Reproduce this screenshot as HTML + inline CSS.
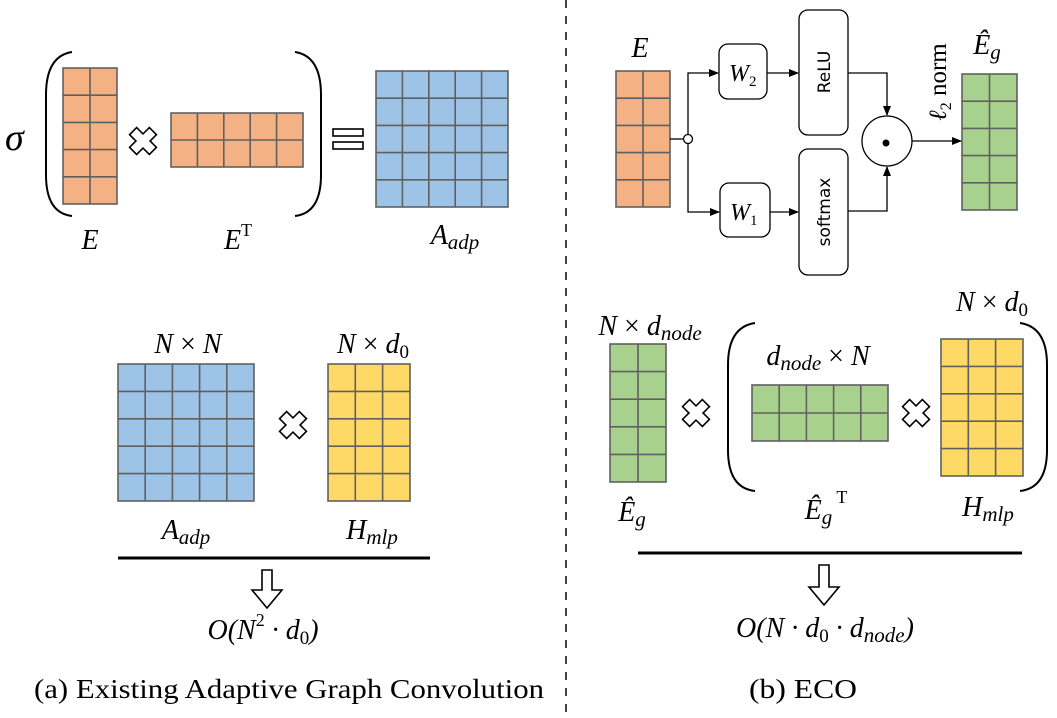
<!DOCTYPE html>
<html><head><meta charset="utf-8"><style>
html,body{margin:0;padding:0;background:#fff;}
svg{display:block;}
.m{font-family:"Liberation Serif",serif;font-style:italic;fill:#000;}
.s{font-family:"DejaVu Sans","Liberation Sans",sans-serif;fill:#000;}
</style></head><body>
<svg width="1057" height="718" viewBox="0 0 1057 718" xmlns="http://www.w3.org/2000/svg">
<defs>
<g id="cross"><polygon points="-5,-14 5,-14 5,-5 14,-5 14,5 5,5 5,14 -5,14 -5,5 -14,5 -14,-5 -5,-5" fill="#fff" stroke="#000" stroke-width="1.6" transform="rotate(45)"/></g>
<marker id="ah" markerWidth="10" markerHeight="8" refX="9" refY="4" orient="auto" markerUnits="userSpaceOnUse"><path d="M0,0 L10,4 L0,8 z" fill="#000"/></marker>
</defs>
<g stroke="#606060" stroke-width="1.6">
<rect x="63" y="68" width="54" height="136" fill="#F4B183"/>
<path d="M90 68V204M63 95.2H117M63 122.4H117M63 149.6H117M63 176.8H117"/>
<rect x="171" y="113" width="132" height="54" fill="#F4B183"/>
<path d="M197.4 113V167M223.8 113V167M250.2 113V167M276.6 113V167M171 140H303"/>
<rect x="376" y="71" width="132" height="136" fill="#9DC3E6"/>
<path d="M402.4 71V207M428.8 71V207M455.2 71V207M481.6 71V207M376 98.2H508M376 125.4H508M376 152.6H508M376 179.8H508"/>
<rect x="616" y="71" width="54" height="136" fill="#F4B183"/>
<path d="M643 71V207M616 98.2H670M616 125.4H670M616 152.6H670M616 179.8H670"/>
<rect x="962" y="74" width="55" height="136" fill="#A9D18E"/>
<path d="M989.5 74V210M962 101.2H1017M962 128.4H1017M962 155.6H1017M962 182.8H1017"/>
<rect x="118" y="364" width="136" height="137" fill="#9DC3E6"/>
<path d="M145.2 364V501M172.4 364V501M199.6 364V501M226.8 364V501M118 391.4H254M118 418.8H254M118 446.2H254M118 473.6H254"/>
<rect x="328" y="364" width="82" height="137" fill="#FFD966"/>
<path d="M355.3 364V501M382.6 364V501M328 391.4H410M328 418.8H410M328 446.2H410M328 473.6H410"/>
<rect x="610" y="344" width="56" height="138" fill="#A9D18E"/>
<path d="M638 344V482M610 371.6H666M610 399.2H666M610 426.8H666M610 454.4H666"/>
<rect x="752" y="385" width="136" height="56" fill="#A9D18E"/>
<path d="M779.2 385V441M806.4 385V441M833.6 385V441M860.8 385V441M752 413H888"/>
<rect x="941" y="339" width="82" height="137" fill="#FFD966"/>
<path d="M968.3 339V476M995.6 339V476M941 366.4H1023M941 393.8H1023M941 421.2H1023M941 448.6H1023"/>
</g>
<g fill="none" stroke="#000" stroke-width="2">
<path d="M72 52 Q46 56 46 95 V175 Q46 213 72 216"/>
<path d="M295 52 Q321 56 321 95 V175 Q321 213 295 216"/>
<path d="M755 323 Q728 327 728 365 V450 Q728 488 755 491"/>
<path d="M1020 323 Q1047 327 1047 365 V450 Q1047 488 1020 491"/>
</g>
<use href="#cross" x="143" y="141"/>
<use href="#cross" x="293" y="425"/>
<use href="#cross" x="696" y="413"/>
<use href="#cross" x="916" y="413"/>
<rect x="333" y="129" width="30" height="7" fill="#fff" stroke="#000" stroke-width="1.6"/>
<rect x="333" y="142" width="30" height="7" fill="#fff" stroke="#000" stroke-width="1.6"/>
<line x1="566" y1="0" x2="566" y2="718" stroke="#444" stroke-width="2" stroke-dasharray="8 8"/>
<line x1="118" y1="558" x2="430" y2="558" stroke="#000" stroke-width="3"/>
<line x1="638" y1="553" x2="1022" y2="553" stroke="#000" stroke-width="3"/>
<path d="M262 570 H272 V590 H282 L267 608 L252 590 H262 Z" fill="#fff" stroke="#000" stroke-width="1.6"/>
<path d="M819 565 H829 V587 H839 L824 605 L809 587 H819 Z" fill="#fff" stroke="#000" stroke-width="1.6"/>
<g fill="none" stroke="#000" stroke-width="1.3">
<line x1="670" y1="139" x2="684" y2="139"/>
<path d="M688 135 V73 H718" marker-end="url(#ah)"/>
<path d="M688 143 V212 H719" marker-end="url(#ah)"/>
<line x1="767" y1="73" x2="798" y2="73" marker-end="url(#ah)"/>
<line x1="770" y1="212" x2="798" y2="212" marker-end="url(#ah)"/>
<path d="M848 73 H887 V115" marker-end="url(#ah)"/>
<path d="M848 211 H887 V167" marker-end="url(#ah)"/>
<line x1="912" y1="141" x2="961" y2="141" marker-end="url(#ah)"/>
<rect x="719" y="44" width="48" height="55" rx="9"/>
<rect x="720" y="183" width="50" height="54" rx="9"/>
<rect x="799" y="10" width="49" height="125" rx="9"/>
<rect x="799" y="149" width="49" height="126" rx="9"/>
<circle cx="887" cy="141" r="25"/>
</g>
<circle cx="688" cy="139" r="4.5" fill="#fff" stroke="#000" stroke-width="1.3"/>
<circle cx="886" cy="143" r="3.5" fill="#000"/>
<text class="m" x="729" y="81" font-size="24">W<tspan font-size="15" dy="5" font-style="normal">2</tspan></text>
<text class="m" x="730" y="220" font-size="24">W<tspan font-size="15" dy="5" font-style="normal">1</tspan></text>
<text class="s" font-size="17" transform="translate(830,72) rotate(-90)" text-anchor="middle">ReLU</text>
<text class="s" font-size="17" transform="translate(830,212) rotate(-90)" text-anchor="middle">softmax</text>
<text font-family="Liberation Serif,serif" font-size="25" transform="translate(946,82) rotate(-90)" text-anchor="middle"><tspan font-style="italic">ℓ</tspan><tspan font-size="16" dy="5">2</tspan><tspan dy="-5"> norm</tspan></text>
<text class="m" x="5" y="150" font-size="38">σ</text>
<text class="m" x="90" y="249" font-size="28" text-anchor="middle">E</text>
<text class="m" x="238" y="249" font-size="28" text-anchor="middle">E<tspan font-style="normal" font-size="18" dy="-13">T</tspan></text>
<text class="m" x="455" y="244" font-size="28" text-anchor="middle">A<tspan font-size="21" dy="5">adp</tspan></text>
<text class="m" x="640" y="57" font-size="28" text-anchor="middle">E</text>
<text class="m" x="987" y="54" font-size="28" text-anchor="middle">Ê<tspan font-size="21" dy="5">g</tspan></text>
<text class="m" x="188" y="353" font-size="28" text-anchor="middle">N <tspan font-style="normal">×</tspan> N</text>
<text class="m" x="373" y="353" font-size="28" text-anchor="middle">N <tspan font-style="normal">×</tspan> d<tspan font-style="normal" font-size="19" dy="5">0</tspan></text>
<text class="m" x="186" y="539" font-size="28" text-anchor="middle">A<tspan font-size="21" dy="5">adp</tspan></text>
<text class="m" x="372" y="539" font-size="28" text-anchor="middle">H<tspan font-size="21" dy="5">mlp</tspan></text>
<text class="m" x="263" y="639" font-size="28" text-anchor="middle">O(N<tspan font-style="normal" font-size="18" dy="-13">2</tspan><tspan dy="13"> · d</tspan><tspan font-style="normal" font-size="19" dy="5">0</tspan><tspan dy="-5">)</tspan></text>
<text class="m" x="650" y="335" font-size="28" text-anchor="middle">N <tspan font-style="normal">×</tspan> d<tspan font-size="21" dy="5">node</tspan></text>
<text class="m" x="818" y="365" font-size="28" text-anchor="middle">d<tspan font-size="21" dy="5">node</tspan><tspan dy="-5"> <tspan font-style="normal">×</tspan> N</tspan></text>
<text class="m" x="992" y="311" font-size="28" text-anchor="middle">N <tspan font-style="normal">×</tspan> d<tspan font-style="normal" font-size="19" dy="5">0</tspan></text>
<text class="m" x="632" y="521" font-size="28" text-anchor="middle">Ê<tspan font-size="21" dy="5">g</tspan></text>
<text class="m" x="826" y="519" font-size="28" text-anchor="middle">Ê<tspan font-size="21" dy="5">g</tspan><tspan font-style="normal" font-size="18" dy="-21"> T</tspan></text>
<text class="m" x="988" y="516" font-size="28" text-anchor="middle">H<tspan font-size="21" dy="5">mlp</tspan></text>
<text class="m" x="825" y="637" font-size="28" text-anchor="middle">O(N · d<tspan font-style="normal" font-size="19" dy="5">0</tspan><tspan dy="-5"> · d</tspan><tspan font-size="21" dy="5">node</tspan><tspan dy="-5">)</tspan></text>
<text font-family="Liberation Serif,serif" x="34" y="698" font-size="27" textLength="510" lengthAdjust="spacingAndGlyphs">(a) Existing Adaptive Graph Convolution</text>
<text font-family="Liberation Serif,serif" x="749" y="698" font-size="27" textLength="108" lengthAdjust="spacingAndGlyphs">(b) ECO</text>
</svg>
</body></html>
